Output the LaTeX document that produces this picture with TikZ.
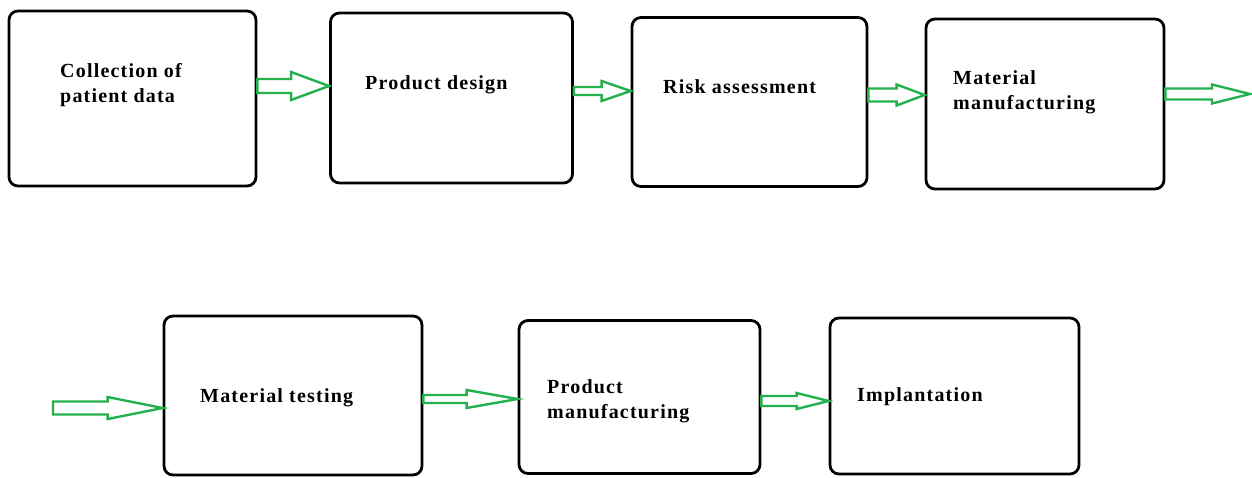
\documentclass[tikz,border=0pt]{standalone}
\usepackage{fontspec}
\setmainfont{Liberation Serif}[LetterSpace=6]
\usetikzlibrary{calc}
\definecolor{arrgreen}{RGB}{34,177,76}
\tikzset{
  box/.style={draw=black, line width=2.8pt, rounded corners=9pt, fill=white, inner sep=0pt},
  lbl/.style={anchor=base west, inner sep=0pt, font=\fontsize{20}{25}\selectfont\bfseries},
  barrow/.style={draw=arrgreen, line width=2.4pt, line join=miter, fill=white}
}
% #1 from, #2 to, #3 y (image px), #4 shaft half, #5 head half, #6 head length
\newcommand\blockarr[6]{%
  \draw[barrow] let \p1=(#1), \p2=(#2) in
    (\x1,-#3pt+#4pt) -- (\x2-#6pt,-#3pt+#4pt) -- (\x2-#6pt,-#3pt+#5pt) --
    (\x2,-#3pt) -- (\x2-#6pt,-#3pt-#5pt) -- (\x2-#6pt,-#3pt-#4pt) --
    (\x1,-#3pt-#4pt) -- cycle;}
\begin{document}
\begin{tikzpicture}[x=1pt,y=-1pt]
\useasboundingbox (0,0) rectangle (1252,477);
% boxes
\node[box, minimum width=247pt, minimum height=175pt] (b1) at (132.5,98.5) {};
\node[box, minimum width=242pt, minimum height=170pt] (b2) at (451.5,98) {};
\node[box, minimum width=235pt, minimum height=169pt] (b3) at (749.5,102) {};
\node[box, minimum width=238pt, minimum height=170pt] (b4) at (1045,104) {};
\node[box, minimum width=258pt, minimum height=159pt] (b5) at (293,395.5) {};
\node[box, minimum width=241pt, minimum height=153pt] (b6) at (639.5,397) {};
\node[box, minimum width=249pt, minimum height=156pt] (b7) at (954.5,396) {};
% labels
\node[lbl] (t1a) at (60,77) {Collection of};
\node[lbl] (t1b) at (60,102) {patient data};
\node[lbl] (t2) at (365,89) {Product design};
\node[lbl] (t3) at (663,93) {Risk assessment};
\node[lbl] (t4a) at (953,84) {Material};
\node[lbl] (t4b) at (953,109) {manufacturing};
\node[lbl] (t5) at (200,402) {Material testing};
\node[lbl] (t6a) at (547,393) {Product};
\node[lbl] (t6b) at (547,418) {manufacturing};
\node[lbl] (t7) at (857,401) {Implantation};
% free ends
\coordinate (e4) at (1250,93);
\coordinate (s5) at (53,408);
% arrows
\blockarr{b1.east}{b2.west}{86}{7}{14}{38}
\blockarr{b2.east}{b3.west}{91}{4}{10}{29}
\blockarr{b3.east}{b4.west}{95}{6.5}{10.5}{28}
\blockarr{b4.east}{e4}{94}{5.5}{9.5}{38}
\blockarr{s5}{b5.west}{408}{6.5}{11}{55}
\blockarr{b5.east}{b6.west}{399}{4}{9}{51}
\blockarr{b6.east}{b7.west}{401}{5}{8}{32}
\end{tikzpicture}
\end{document}
